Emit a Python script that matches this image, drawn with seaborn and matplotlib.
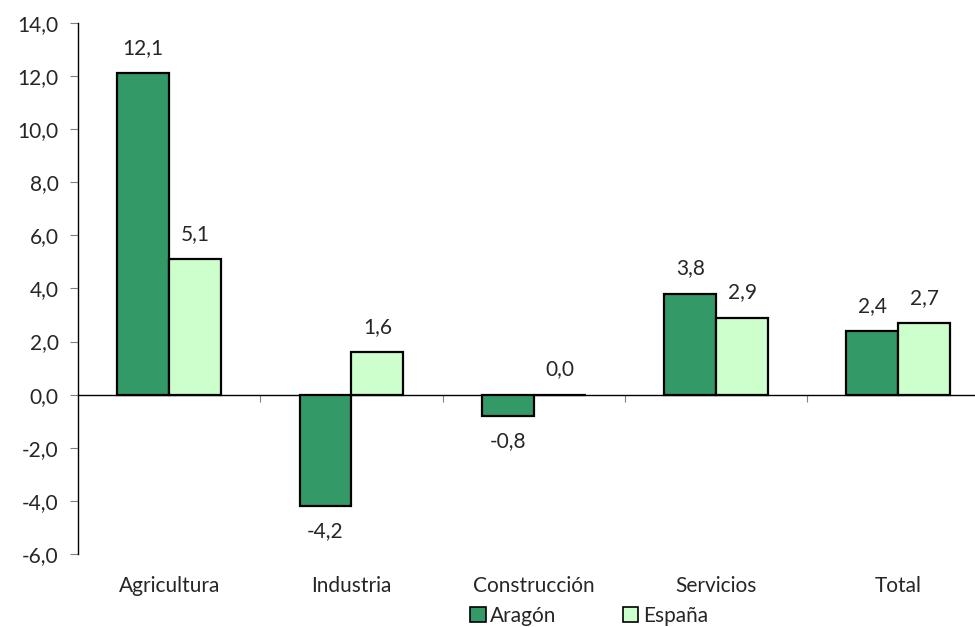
import pandas as pd
import seaborn as sns
import matplotlib.pyplot as plt
from matplotlib.ticker import FuncFormatter

# datos
sectores = ["Agricultura", "Industria", "Construcción", "Servicios", "Total"]
aragon = [12.1, -4.2, -0.8, 3.8, 2.4]
espana = [5.1, 1.6, 0.0, 2.9, 2.7]
series = ["Aragón", "España"]
colores = ["#339966", "#CCFFCC"]

df = pd.DataFrame({
    "sector": sectores * 2,
    "serie": [series[0]] * len(sectores) + [series[1]] * len(sectores),
    "valor": aragon + espana,
})

sns.set_style("white")
plt.rcParams["font.family"] = ["Lato", "DejaVu Sans"]
fs = 15

fig = plt.figure(figsize=(9.75, 6.27), dpi=100)
ax = fig.add_axes([0.08, 0.1164, 0.935, 0.847])

sns.barplot(data=df, x="sector", y="valor", hue="serie", palette=colores,
            saturation=1, width=0.57, edgecolor="black", linewidth=1.6,
            ax=ax, legend=False)

# etiquetas de valores
for cont in ax.containers:
    etiquetas = [f"{b.get_height():.1f}".replace(".", ",").replace("-0,0", "0,0")
                 for b in cont]
    ax.bar_label(cont, labels=etiquetas, padding=11, fontsize=fs)

ax.set_ylim(-6, 14)
ax.set_xlim(-0.5, 4.5)
ax.set_yticks(range(-6, 15, 2))
ax.yaxis.set_major_formatter(FuncFormatter(lambda v, p: f"{v:.1f}".replace(".", ",")))
ax.tick_params(axis="y", labelsize=fs, length=6, color="#808080", left=True, pad=8)
ax.tick_params(axis="x", labelsize=fs, length=0, pad=16)
ax.set_xlabel("")
ax.set_ylabel("")
for s in ["top", "right", "bottom"]:
    ax.spines[s].set_visible(False)
ax.spines["left"].set_color("black")
ax.spines["left"].set_linewidth(1)

# eje en el cero con marcas entre categorías
cero = (0 - (-6)) / 20
eje0 = ax.secondary_xaxis(cero)
eje0.set_xticks([0.5, 1.5, 2.5, 3.5])
eje0.set_xticklabels([])
eje0.tick_params(length=5, color="#808080", direction="out")
eje0.spines["bottom"].set_color("black")
eje0.spines["bottom"].set_linewidth(1)

handles = [plt.Rectangle((0, 0), 1, 1, facecolor=c, edgecolor="black", linewidth=1.2)
           for c in colores]
fig.legend(handles, series, loc="lower center", bbox_to_anchor=(0.604, -0.028),
           ncol=2, frameon=False, fontsize=fs, handlelength=0.75, handleheight=0.75,
           handletextpad=0.2, columnspacing=3.2)

plt.savefig("out.png", dpi=100)
